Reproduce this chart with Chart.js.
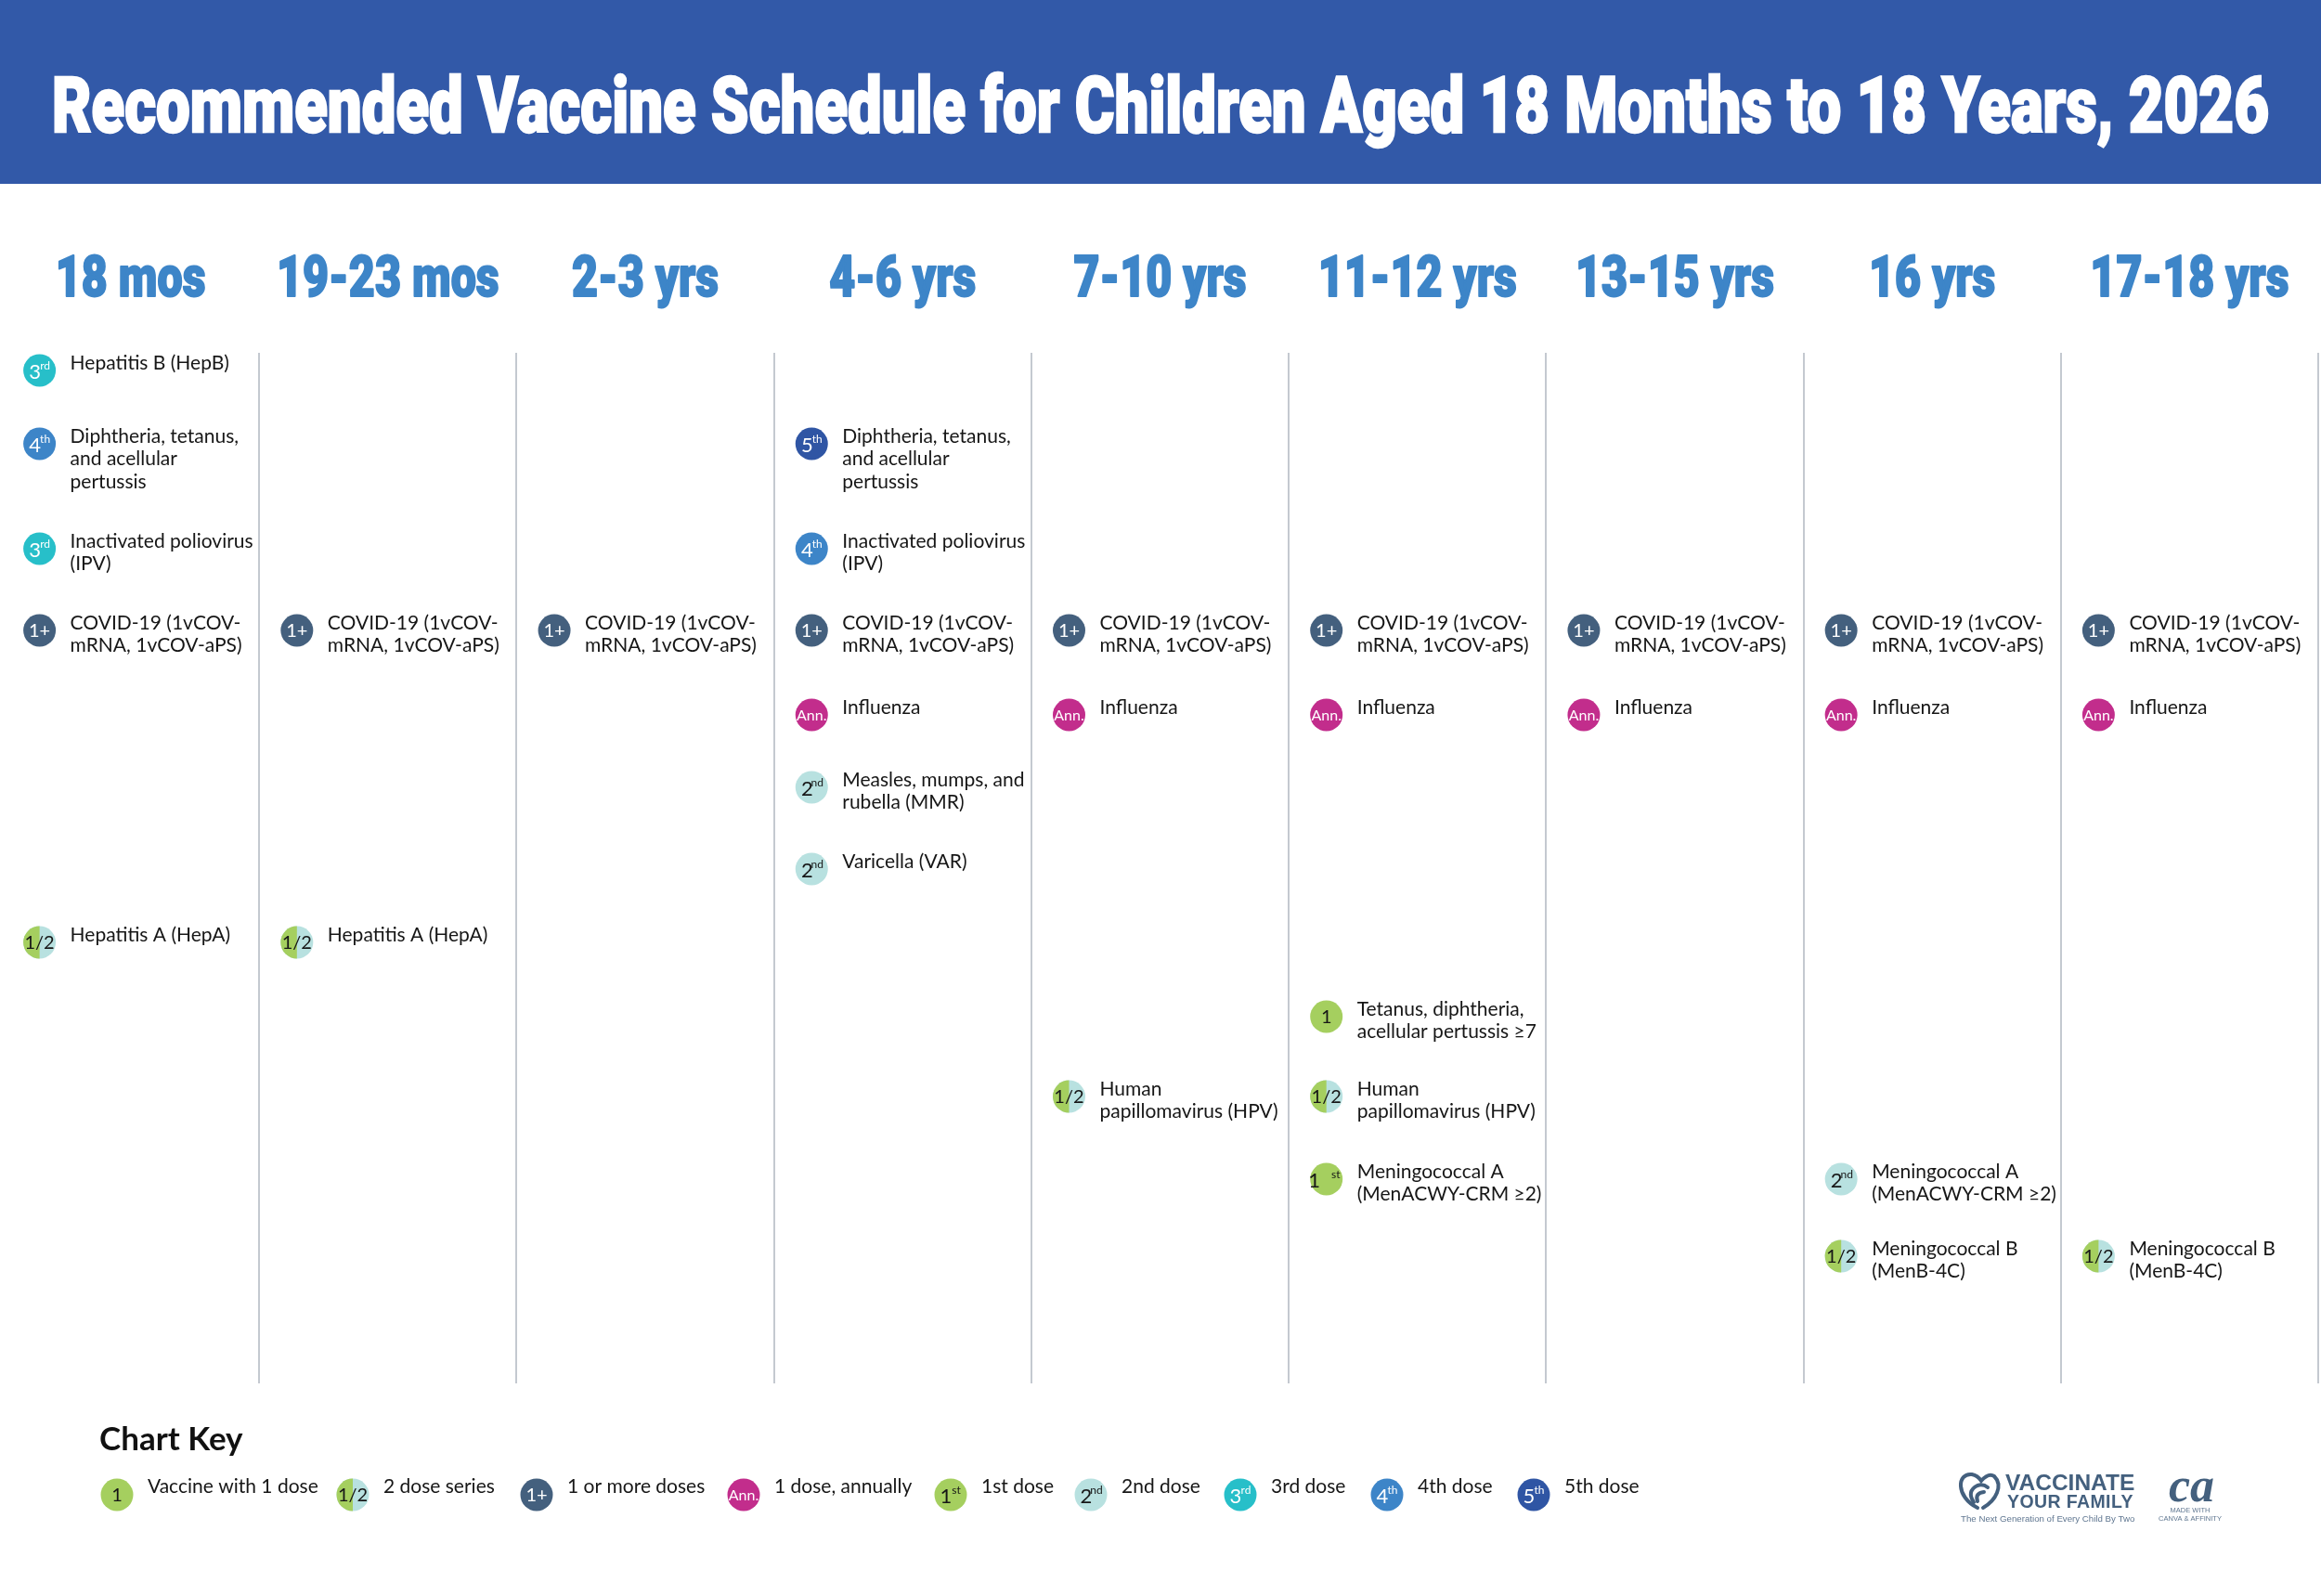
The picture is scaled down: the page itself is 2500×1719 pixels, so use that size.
<!DOCTYPE html>
<html>
<head>
<meta charset="utf-8">
<title>Recommended Vaccine Schedule</title>
<script src="https://cdn.jsdelivr.net/npm/chart.js@4/dist/chart.umd.js"></script>
<style>
    html, body { margin: 0; padding: 0; background: #fff; }
    #wrap { position: relative; width: 2500px; height: 1719px; overflow: hidden; }
    #banner { position: absolute; left: 0; top: 0; width: 2500px; height: 198px; background: #3259a8; }
    #banner h1 {
        margin: 0; position: absolute; left: 56px; top: 62px; white-space: nowrap;
        font: 900 84px Roboto, sans-serif;
        line-height: 104px; color: #fff; transform-origin: 0 50%;
        -webkit-text-stroke: 2.5px #fff;
    }
    canvas { position: absolute; left: 0; top: 0; }
</style>
</head>
<body>
<div id="wrap">
    <canvas id="scheduleChart" width="2500" height="1719"></canvas>
    <div id="banner"><h1 id="bannerTitle">Recommended Vaccine Schedule for Children Aged 18 Months to 18 Years, 2026</h1></div>
</div>
<script>
const ages = ['18 mos', '19-23 mos', '2-3 yrs', '4-6 yrs', '7-10 yrs', '11-12 yrs', '13-15 yrs', '16 yrs', '17-18 yrs'];

const vaccines = ['HepB', 'DTaP', 'IPV', 'COVID', 'Flu', 'MMR', 'VAR', 'HepA', 'Tdap', 'HPV', 'MenACWY', 'MenB'];

const vaccineNames = [
    ['Hepatitis B (HepB)'],
    ['Diphtheria, tetanus,', 'and acellular', 'pertussis'],
    ['Inactivated poliovirus', '(IPV)'],
    ['COVID-19 (1vCOV-', 'mRNA, 1vCOV-aPS)'],
    ['Influenza'],
    ['Measles, mumps, and', 'rubella (MMR)'],
    ['Varicella (VAR)'],
    ['Hepatitis A (HepA)'],
    ['Tetanus, diphtheria,', 'acellular pertussis ≥7'],
    ['Human', 'papillomavirus (HPV)'],
    ['Meningococcal A', '(MenACWY-CRM ≥2)'],
    ['Meningococcal B', '(MenB-4C)']
];

// one list per vaccine, one entry per age column
const hepB    = ['3rd', null, null, null, null, null, null, null, null];
const dtap    = ['4th', null, null, '5th', null, null, null, null, null];
const ipv     = ['3rd', null, null, '4th', null, null, null, null, null];
const covid   = ['1+', '1+', '1+', '1+', '1+', '1+', '1+', '1+', '1+'];
const flu     = [null, null, null, 'Ann.', 'Ann.', 'Ann.', 'Ann.', 'Ann.', 'Ann.'];
const mmr     = [null, null, null, '2nd', null, null, null, null, null];
const varic   = [null, null, null, '2nd', null, null, null, null, null];
const hepA    = ['1/2', '1/2', null, null, null, null, null, null, null];
const tdap    = [null, null, null, null, null, '1', null, null, null];
const hpv     = [null, null, null, null, '1/2', '1/2', null, null, null];
const menACWY = [null, null, null, null, null, '1st', null, '2nd', null];
const menB    = [null, null, null, null, null, null, null, '1/2', '1/2'];
const schedule = [hepB, dtap, ipv, covid, flu, mmr, varic, hepA, tdap, hpv, menACWY, menB];

const doseKinds = ['1', '1/2', '1+', 'Ann.', '1st', '2nd', '3rd', '4th', '5th'];
const keyLabels = ['Vaccine with 1 dose', '2 dose series', '1 or more doses', '1 dose, annually', '1st dose', '2nd dose', '3rd dose', '4th dose', '5th dose'];

const GREEN = '#a5cf5f';
const PALE = '#b8e1e0';
const doseColors = {
    '1': GREEN, '1/2': PALE, '1+': '#44607e', 'Ann.': '#c22d8c', '1st': GREEN,
    '2nd': PALE, '3rd': '#27bfc9', '4th': '#3d85c8', '5th': '#2f55a4'
};
const whiteText = ['1+', 'Ann.', '3rd', '4th', '5th'];
const TEXT_FONT = '"Lato", "Noto Sans", sans-serif';
const INK = '#161616';
const SLATE = '#44607e';
const AGE_BLUE = '#3d85c8';

// fit the condensed look of the banner title, no narrow face is installed
const bannerTitle = document.getElementById('bannerTitle');
bannerTitle.style.transform = 'scaleX(' + (2388 / bannerTitle.getBoundingClientRect().width) + ')';

// rows of the schedule are not evenly spaced, so the category scale takes its offsets from options
class RowScale extends Chart.CategoryScale {
    getPixelForValue(value) {
        const idx = typeof value === 'number' ? value : this.parse(value);
        return this.top + this.options.rowOffsets[idx];
    }
}
RowScale.id = 'rows';
RowScale.defaults = Chart.CategoryScale.defaults;
Chart.register(RowScale);

function drawBadgeText(ctx, x, y, dose, wideSup) {
    ctx.save();
    ctx.fillStyle = whiteText.includes(dose) ? '#fff' : INK;
    ctx.textBaseline = 'middle';
    ctx.textAlign = 'center';
    if (dose === 'Ann.') {
        ctx.font = '16px ' + TEXT_FONT;
        ctx.fillText(dose, x, y + 1);
    } else if (dose.length === 3 && dose !== '1/2') {
        const gap = wideSup ? 8 : 0;
        ctx.font = '22px ' + TEXT_FONT;
        ctx.fillText(dose[0], x - 5 - gap, y + 2);
        ctx.font = '12px ' + TEXT_FONT;
        ctx.fillText(dose.slice(1), x + 6 + gap / 2, y - 5);
    } else {
        ctx.font = '20px ' + TEXT_FONT;
        ctx.fillText(dose, x, y + 1);
    }
    ctx.restore();
}

function drawHalf(ctx, x, y, r) {
    ctx.save();
    ctx.fillStyle = GREEN;
    ctx.beginPath();
    ctx.arc(x, y, r, Math.PI / 2, Math.PI * 1.5);
    ctx.closePath();
    ctx.fill();
    ctx.restore();
}

// dose text in the circles and the vaccine names beside them
const scheduleLabels = {
    id: 'scheduleLabels',
    afterDatasetsDraw(chart) {
        const ctx = chart.ctx;
        chart.data.datasets.forEach((ds, i) => {
            chart.getDatasetMeta(i).data.forEach((pt, j) => {
                const raw = ds.data[j];
                if (ds.dose === '1/2') drawHalf(ctx, pt.x, pt.y, 17.5);
                drawBadgeText(ctx, pt.x, pt.y, ds.dose, ds.dose === '1st');
                const lines = vaccineNames[vaccines.indexOf(raw.y)];
                ctx.save();
                ctx.font = '21px ' + TEXT_FONT;
                ctx.fillStyle = INK;
                ctx.textBaseline = 'middle';
                ctx.textAlign = 'left';
                lines.forEach((line, k) => ctx.fillText(line, pt.x + 33, pt.y - 8 + k * 24.4));
                ctx.restore();
            });
        });
    }
};

// age headings: squeezed horizontally, so drawn here at the scale's tick positions
const ageLabels = {
    id: 'ageLabels',
    afterDraw(chart) {
        const ctx = chart.ctx, scale = chart.scales.x;
        ages.forEach((age, i) => {
            ctx.save();
            ctx.translate(scale.getPixelForTick(i), 319);
            ctx.scale(0.78, 1);
            ctx.font = '900 62px Roboto, sans-serif';
            ctx.textAlign = 'center';
            ctx.textBaseline = 'alphabetic';
            ctx.fillStyle = AGE_BLUE;
            ctx.strokeStyle = AGE_BLUE;
            ctx.lineWidth = 2;
            ctx.lineJoin = 'round';
            ctx.fillText(age, 0, 0);
            ctx.strokeText(age, 0, 0);
            ctx.restore();
        });
    }
};

// the key along the bottom, built from the same datasets
const keyX = [126, 380, 578, 801, 1024, 1175, 1336, 1494, 1652];
const chartKey = {
    id: 'chartKey',
    afterDraw(chart) {
        const ctx = chart.ctx;
        ctx.save();
        ctx.fillStyle = '#111';
        ctx.font = 'bold 35px ' + TEXT_FONT;
        ctx.textBaseline = 'middle';
        ctx.fillText('Chart Key', 107, 1551);
        chart.data.datasets.forEach((ds, i) => {
            const x = keyX[i], y = 1610;
            ctx.fillStyle = ds.pointBackgroundColor;
            ctx.beginPath();
            ctx.arc(x, y, 17.5, 0, Math.PI * 2);
            ctx.fill();
            if (ds.dose === '1/2') drawHalf(ctx, x, y, 17.5);
            drawBadgeText(ctx, x, y, ds.dose, false);
            ctx.font = '21px ' + TEXT_FONT;
            ctx.fillStyle = INK;
            ctx.textAlign = 'left';
            ctx.fillText(ds.label, x + 33, y - 9);
        });
        ctx.restore();
    }
};

// the two small marks in the corner
const logos = {
    id: 'logos',
    afterDraw(chart) {
        const ctx = chart.ctx;
        ctx.save();
        ctx.strokeStyle = SLATE;
        ctx.lineCap = 'round';
        ctx.lineWidth = 4;
        ctx.beginPath();
        ctx.moveTo(2130, 1624);
        ctx.bezierCurveTo(2106, 1612, 2108, 1586, 2124, 1588);
        ctx.quadraticCurveTo(2130, 1589, 2134, 1595);
        ctx.quadraticCurveTo(2142, 1586, 2148, 1590);
        ctx.bezierCurveTo(2158, 1600, 2150, 1616, 2136, 1624);
        ctx.stroke();
        ctx.beginPath();
        ctx.moveTo(2126, 1618);
        ctx.quadraticCurveTo(2118, 1606, 2130, 1600);
        ctx.quadraticCurveTo(2136, 1598, 2141, 1602);
        ctx.stroke();
        ctx.beginPath();
        ctx.moveTo(2130, 1617);
        ctx.quadraticCurveTo(2127, 1608, 2137, 1607);
        ctx.stroke();
        ctx.fillStyle = SLATE;
        ctx.textBaseline = 'alphabetic';
        ctx.font = 'bold 24.5px "Liberation Sans", sans-serif';
        ctx.fillText('VACCINATE', 2160, 1605);
        ctx.font = 'bold 19.5px "Liberation Sans", sans-serif';
        ctx.letterSpacing = '0.4px';
        ctx.fillText('YOUR FAMILY', 2162, 1624);
        ctx.letterSpacing = '0px';
        ctx.fillStyle = '#5f7690';
        ctx.font = '9.7px "Liberation Sans", sans-serif';
        ctx.fillText('The Next Generation of Every Child By Two', 2112, 1639);
        ctx.fillStyle = SLATE;
        ctx.font = 'italic bold 52px "Liberation Serif", serif';
        ctx.fillText('ca', 2336, 1617);
        ctx.fillStyle = '#5f7690';
        ctx.font = '7.5px "Liberation Sans", sans-serif';
        ctx.textAlign = 'center';
        ctx.fillText('MADE WITH', 2359, 1629);
        ctx.fillText('CANVA & AFFINITY', 2359, 1638);
        ctx.restore();
    }
};

const datasets = doseKinds.map((dose, d) => {
    const points = [];
    schedule.forEach((row, r) => {
        row.forEach((value, c) => {
            if (value === dose) points.push({ x: c, y: vaccines[r] });
        });
    });
    return {
        label: keyLabels[d],
        dose: dose,
        data: points,
        xAxisID: 'slots',
        yAxisID: 'y',
        showLine: false,
        pointRadius: 17.5,
        pointHoverRadius: 17.5,
        pointBorderWidth: 0,
        pointBackgroundColor: doseColors[dose]
    };
});

new Chart(document.getElementById('scheduleChart').getContext('2d'), {
    type: 'scatter',
    data: { datasets: datasets },
    plugins: [scheduleLabels, ageLabels, chartKey, logos],
    options: {
        responsive: false,
        animation: false,
        devicePixelRatio: 1,
        layout: { autoPadding: false, padding: { top: 198, left: 2, right: 3, bottom: 229 } },
        plugins: { legend: { display: false }, tooltip: { enabled: false } },
        scales: {
            x: {
                type: 'category',
                labels: ages,
                position: 'top',
                offset: true,
                afterFit(scale) { scale.height = 182; },
                border: { display: false },
                grid: {
                    offset: true,
                    drawTicks: false,
                    lineWidth: 2,
                    color: c => (c.index === 0 || c.index === ages.length ? 'rgba(0,0,0,0)' : '#c4c9d0')
                },
                ticks: { display: false }
            },
            // marks sit left of each column centre, so they get their own hidden axis
            slots: {
                type: 'linear',
                display: false,
                position: 'top',
                min: -0.5 + 98 / 277.2,
                max: 8.5 + 98 / 277.2
            },
            y: {
                type: 'rows',
                labels: vaccines,
                display: false,
                rowOffsets: [19, 98, 211, 299, 390, 468, 556, 635, 715, 801, 890, 973]
            }
        }
    }
});
</script>
</body>
</html>
